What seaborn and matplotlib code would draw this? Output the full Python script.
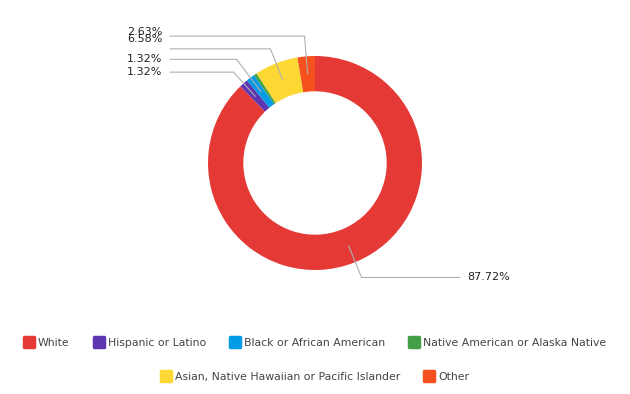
import numpy as np
import seaborn as sns
import matplotlib.pyplot as plt
from matplotlib.lines import Line2D
from matplotlib.markers import MarkerStyle

# data
categories = ['White', 'Hispanic or Latino', 'Black or African American',
              'Native American or Alaska Native',
              'Asian, Native Hawaiian or Pacific Islander', 'Other']
shares = [87.72, 1.32, 1.32, 0.44, 6.58, 2.63]
colors = ['#E53935', '#5E35B1', '#039BE5', '#43A047', '#FDD835', '#F4511E']

sns.set_theme(style='white')
plt.rcParams['font.family'] = ['DejaVu Sans']

W, H = 630, 394
fig = plt.figure(figsize=(W / 100, H / 100), dpi=100)
ax = fig.add_axes([0, 0, 1, 1])

# pie centre & radius in pixels
cx, cy, R = 315, 163, 107
ring = 0.33

wedges, _ = ax.pie(shares, colors=colors, startangle=90, counterclock=False,
                   radius=1, wedgeprops=dict(width=ring, linewidth=0))
ax.set_xlim(-cx / R, (W - cx) / R)
ax.set_ylim(-(H - cy) / R, cy / R)
ax.set_aspect('auto')
ax.set_axis_off()

# leader lines + labels (elbow radius and label nudge per slice)
elbow_r = [1.155, 1.14, 1.215, 1.17, 1.145, 1.19]
nudge = [0, 0, 0, 0, 0.095, 0.04]
line_x = 1.355
for i, (w, v) in enumerate(zip(wedges, shares)):
    if v < 1:
        continue
    mid = np.deg2rad((w.theta1 + w.theta2) / 2)
    r_mid = 1 - ring / 2
    ax0, ay0 = r_mid * np.cos(mid), r_mid * np.sin(mid)
    ex, ey = elbow_r[i] * np.cos(mid), elbow_r[i] * np.sin(mid)
    side = 1 if ex > 0 else -1
    ax.plot([ax0, ex, side * line_x], [ay0, ey, ey], color='#b0b0b0', lw=0.8)
    ax.text(side * (line_x + 0.07), ey + nudge[i], f'{v:.2f}%',
            ha='left' if side > 0 else 'right', va='center',
            fontsize=8, color='#222222')

# legend
def handle(c):
    return Line2D([], [], linestyle='', marker=MarkerStyle('s', joinstyle='round'),
                  markersize=7.8, markeredgewidth=2.5, color=c, markeredgecolor=c)

handles = [handle(c) for c in colors]
kw = dict(loc='center', frameon=False, fontsize=7.8, handlelength=1.0,
          handletextpad=0.3, columnspacing=2.2, labelcolor='#444444')
fig.legend(handles[:4], categories[:4], ncol=4,
           bbox_to_anchor=(0.5, 1 - 343 / H), **kw)
fig.legend(handles[4:], categories[4:], ncol=2,
           bbox_to_anchor=(0.5, 1 - 377 / H), **kw)

fig.savefig('out.png', dpi=100)
